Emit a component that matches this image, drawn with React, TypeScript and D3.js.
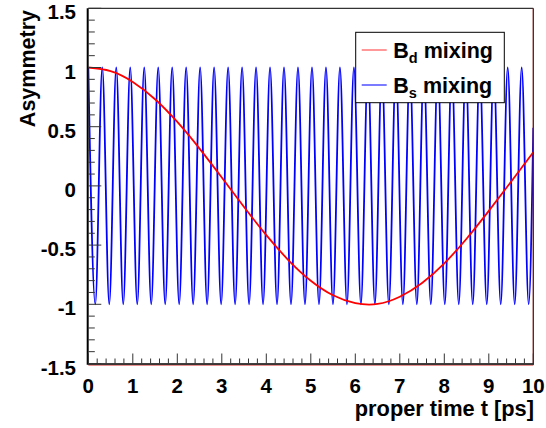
import React from "react";
import * as d3 from "d3";

// Bd mixing asymmetry, read at 0.5 ps steps
const bdTimes = [0, 0.5, 1, 1.5, 2, 2.5, 3, 3.5, 4, 4.5, 5, 5.5, 6, 6.5, 7, 7.5, 8, 8.5, 9, 9.5, 10];
const bdValues = [1, 0.969, 0.878, 0.732, 0.54, 0.315, 0.071, -0.178, -0.416, -0.628, -0.801, -0.924, -0.99, -0.997, -0.936, -0.82, -0.654, -0.446, -0.211, 0.035, 0.284];

// Bs mixing asymmetry: peak (+1) and trough (-1) positions
const bsPeakTimes = [0, 0.314, 0.628, 0.942, 1.257, 1.571, 1.885, 2.199, 2.513, 2.827, 3.142, 3.456, 3.77, 4.084, 4.398, 4.712, 5.027, 5.341, 5.655, 5.969, 6.283, 6.597, 6.912, 7.226, 7.54, 7.854, 8.168, 8.482, 8.796, 9.111, 9.425, 9.739];
const bsTroughTimes = [0.157, 0.471, 0.785, 1.1, 1.414, 1.728, 2.042, 2.356, 2.67, 2.985, 3.299, 3.613, 3.927, 4.241, 4.555, 4.869, 5.184, 5.498, 5.812, 6.126, 6.44, 6.754, 7.069, 7.383, 7.697, 8.011, 8.325, 8.639, 8.954, 9.268, 9.582, 9.896];
const bsEndTime = 10;
const bsEndValue = 0.49;

const yMajorTicks = [-1.5, -1, -0.5, 0, 0.5, 1, 1.5];
const xMajorTicks = [0, 1, 2, 3, 4, 5, 6, 7, 8, 9, 10];
const legendLabels = [
  { main: "B", sub: "d", rest: " mixing", sample: "#ff5555" },
  { main: "B", sub: "s", rest: " mixing", sample: "#2222ff" },
];

const FONT = "'Liberation Sans', Arial, Helvetica, sans-serif";

export default function App() {
  const W = 546, H = 428;
  const x = d3.scaleLinear().domain([0, 10]).range([88.3, 533.3]);
  const y = d3.scaleLinear().domain([-1.5, 1.5]).range([363.5, 8.3]);

  const bd = bdTimes.map((t, i) => [t, bdValues[i]] as [number, number]);
  const bs: [number, number][] = [
    ...bsPeakTimes.map((t) => [t, 1] as [number, number]),
    ...bsTroughTimes.map((t) => [t, -1] as [number, number]),
    [bsEndTime, bsEndValue] as [number, number],
  ].sort((a, b) => a[0] - b[0]);

  const lineBd = d3.line<[number, number]>().x((d) => x(d[0])).y((d) => y(d[1])).curve(d3.curveNatural);
  const lineBs = d3.line<[number, number]>().x((d) => x(d[0])).y((d) => y(d[1])).curve(d3.curveMonotoneX);

  const yMinor = d3.range(-15, 16).map((k) => k / 10).filter((v) => Math.abs(v * 2 - Math.round(v * 2)) > 1e-6);
  const xMinor = d3.range(0, 51).map((k) => k / 5).filter((v) => Math.abs(v - Math.round(v)) > 1e-6);

  const x0 = x(0), x1 = x(10), yB = y(-1.5), yT = y(1.5);

  return (
    <svg width={W} height={H} style={{ position: "absolute", left: 0, top: 0, background: "#fff" }} fontFamily={FONT}>
      <defs>
        <clipPath id="frame">
          <rect x={x0} y={yT} width={x1 - x0} height={yB - yT} />
        </clipPath>
      </defs>
      <rect x={0} y={0} width={W} height={H} fill="#fff" />

      {/* curves */}
      <g clipPath="url(#frame)">
        <path d={lineBs(bs) || ""} fill="none" stroke="#0000ff" strokeWidth={1.8} />
        <path d={lineBd(bd) || ""} fill="none" stroke="#ff0000" strokeWidth={1.8} />
      </g>

      {/* frame */}
      <line x1={x0} x2={x1} y1={yT} y2={yT} stroke="#000" strokeWidth={1} />
      <line x1={x1} x2={x1} y1={yT} y2={yB} stroke="#7a1a1a" strokeWidth={1.4} />
      <line x1={x0} x2={x1} y1={yB + 1.7} y2={yB + 1.7} stroke="#e06060" strokeWidth={1} />
      <line x1={x0} x2={x1 + 0.7} y1={yB + 0.5} y2={yB + 0.5} stroke="#000" strokeWidth={1.4} />
      <line x1={x0 - 0.6} x2={x0 - 0.6} y1={yT} y2={yB + 1.3} stroke="#000" strokeWidth={2} />

      {/* y ticks */}
      {yMinor.map((v) => (
        <line key={"ym" + v} x1={x0} x2={x0 + 6.5} y1={y(v)} y2={y(v)} stroke="#333" strokeWidth={1} />
      ))}
      {yMajorTicks.map((v) => (
        <line key={"yM" + v} x1={x0} x2={x0 + 13} y1={y(v)} y2={y(v)} stroke="#333" strokeWidth={1} />
      ))}
      {yMajorTicks.map((v) => (
        <text key={"yl" + v} x={76} y={y(v) + 11} textAnchor="end" fontSize={20.5} fontWeight="bold" fill="#000">
          {String(v)}
        </text>
      ))}

      {/* x ticks */}
      {xMinor.map((v) => (
        <line key={"xm" + v} x1={x(v)} x2={x(v)} y1={yB} y2={yB - 5} stroke="#333" strokeWidth={1} />
      ))}
      {xMajorTicks.map((v) => (
        <line key={"xM" + v} x1={x(v)} x2={x(v)} y1={yB} y2={yB - 10} stroke="#333" strokeWidth={1} />
      ))}
      {xMajorTicks.map((v) => (
        <text key={"xl" + v} x={x(v)} y={393} textAnchor="middle" fontSize={20.5} fontWeight="bold" fill="#000">
          {String(v)}
        </text>
      ))}

      {/* axis titles */}
      <text x={534} y={416} textAnchor="end" fontSize={21.8} fontWeight="bold" fill="#000">
        proper time t [ps]
      </text>
      <text transform={`translate(35,10) rotate(-90)`} textAnchor="end" fontSize={21.5} fontWeight="bold" fill="#000">
        Asymmetry
      </text>

      {/* legend */}
      <rect x={355.7} y={32.3} width={148.6} height={70.4} fill="#fff" stroke="#000" strokeWidth={1} />
      {legendLabels.map((l, i) => {
        const cy = 50 + i * 35;
        return (
          <g key={"lg" + i}>
            <line x1={361.7} x2={386.7} y1={cy} y2={cy} stroke={l.sample} strokeWidth={1.2} />
            <text x={393.3} y={cy + 7.5} fontSize={21.5} fontWeight="bold" fill="#000">
              {l.main}
              <tspan fontSize={14.5} dy={5}>{l.sub}</tspan>
              <tspan dy={-5}>{l.rest}</tspan>
            </text>
          </g>
        );
      })}
    </svg>
  );
}
